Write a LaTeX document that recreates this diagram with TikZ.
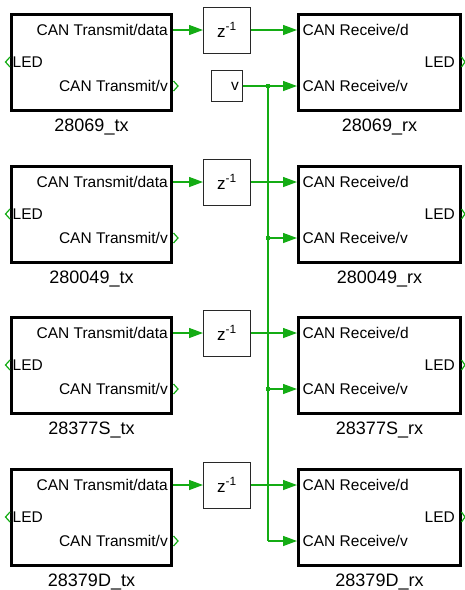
\documentclass[tikz,border=0pt]{standalone}
\usepackage{fontspec}
\setmainfont{Liberation Sans}
\usetikzlibrary{arrows.meta}
\definecolor{siggreen}{RGB}{20,172,20}
\definecolor{framegray}{RGB}{40,40,40}
\begin{document}
\begin{tikzpicture}[x=1pt,y=-1pt,
  blk/.style={draw=black,line width=3pt,minimum height=96pt,inner sep=0pt},
  txblk/.style={blk,minimum width=160pt},
  rxblk/.style={blk,minimum width=162pt},
  zbox/.style={draw=framegray,line width=1pt,minimum width=47pt,minimum height=46pt,inner sep=0pt,font=\fontsize{17}{20}\selectfont},
  vbox/.style={draw=framegray,line width=1pt,minimum width=31pt,minimum height=31pt,inner sep=0pt},
  lbl/.style={inner sep=0pt,font=\fontsize{15.5}{18}\selectfont},
  blkname/.style={inner sep=0pt,font=\fontsize{18}{20}\selectfont,anchor=base},
  sigline/.style={draw=siggreen,line width=1.3pt},
  sigarrow/.style={sigline,-{Triangle[length=14pt,width=10pt]}},
  portglyph/.style={draw=siggreen,line width=1.2pt},
  jdot/.style={fill=siggreen,inner sep=0pt,minimum size=4.5pt,rectangle}
]
\useasboundingbox (0,0) rectangle (464,590);
\foreach \r/\tx/\rx in {0/28069\_tx/28069\_rx,1/280049\_tx/280049\_rx,2/28377S\_tx/28377S\_rx,3/28379D\_tx/28379D\_rx}{
  \pgfmathsetmacro{\dy}{round(151.5*\r)}
  % blocks
  \node[txblk] (tx\r) at (91.5,62.2+\dy) {};
  \node[rxblk] (rx\r) at (379.5,62.2+\dy) {};
  \node[blkname] (txn\r) at (91.5,131.5+\dy) {\tx};
  \node[blkname] (rxn\r) at (379.5,131.5+\dy) {\rx};
  % port labels
  \node[lbl,anchor=base east] (txdl\r) at (168,35.5+\dy) {CAN Transmit/data};
  \node[lbl,anchor=base west] (txll\r) at (12.5,67.5+\dy) {LED};
  \node[lbl,anchor=base east] (txvl\r) at (168,91.5+\dy) {CAN Transmit/v};
  \node[lbl,anchor=base west] (rxdl\r) at (302.5,35.5+\dy) {CAN Receive/d};
  \node[lbl,anchor=base west] (rxvl\r) at (302.5,91.5+\dy) {CAN Receive/v};
  \node[lbl,anchor=base east] (rxll\r) at (455,67.5+\dy) {LED};
  % port coordinates
  \coordinate (txd\r) at (173,30+\dy);
  \coordinate (rxd\r) at (297,30+\dy);
  \coordinate (rxv\r) at (297,86+\dy);
  \coordinate (j\r) at (268,86+\dy);
  % unit delay
  \node[zbox] (z\r) at (227,30+\dy) {z\textsuperscript{-1}};
  \draw[sigarrow] (txd\r) -- (z\r.west);
  \draw[sigarrow] (z\r.east) -- (rxd\r);
  % port glyphs
  \draw[portglyph] (10,57+\dy) -- (5.5,62+\dy) -- (10,67+\dy);
  \draw[portglyph] (173.5,81+\dy) -- (178,86+\dy) -- (173.5,91+\dy);
  \draw[portglyph] (461.5,57+\dy) -- (465,62+\dy) -- (461.5,67+\dy);
}
% constant v
\node[vbox] (vc) at (227,86) {};
\node[lbl,anchor=base east] (vl) at (239,90.5) {v};
\draw[sigarrow] (vc.east) -- (rxv0);
\draw[sigline] (j0) -- (j3);
\foreach \r in {1,2,3}{\draw[sigarrow] (j\r) -- (rxv\r);}
\foreach \r in {0,1,2}{\node[jdot] at (j\r) {};}
\end{tikzpicture}
\end{document}
